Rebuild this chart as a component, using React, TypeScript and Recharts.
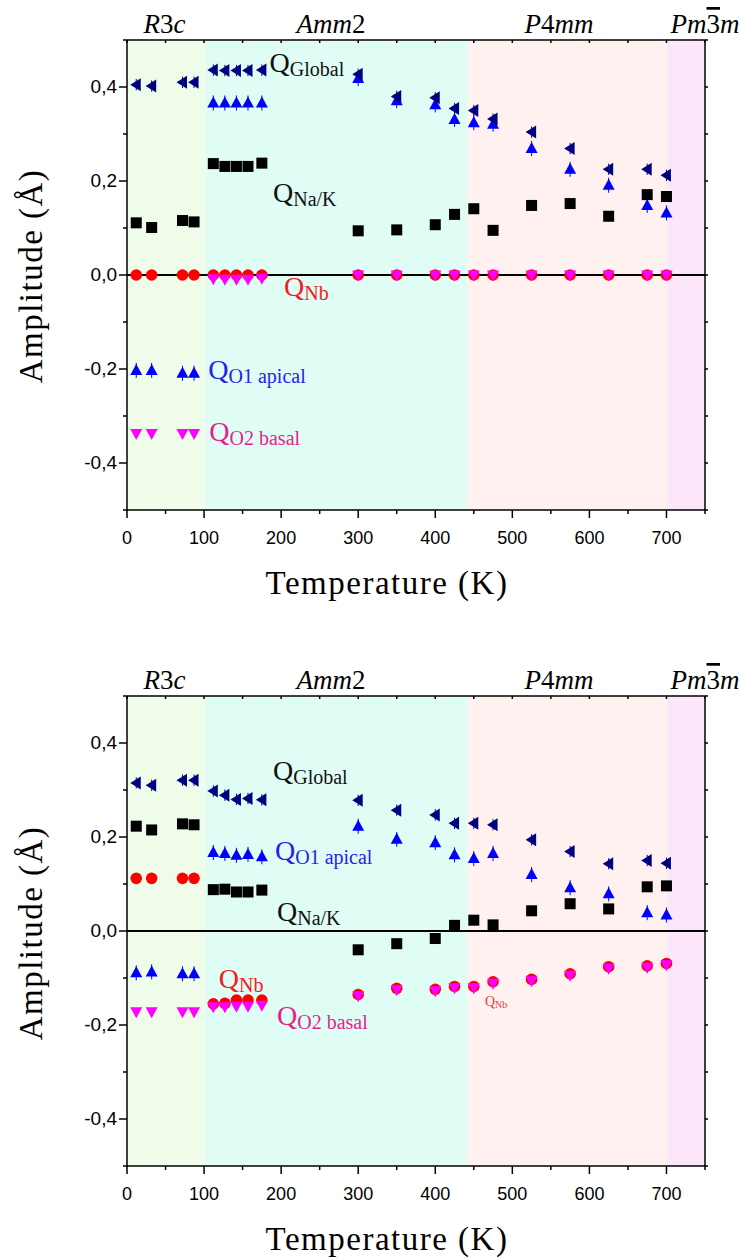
import React from 'react';
import { ScatterChart, Scatter, XAxis, YAxis, ReferenceArea, ReferenceLine, ErrorBar } from 'recharts';

// ---------- data ----------
const temps = [12, 32, 72, 87, 112, 127, 142, 157, 175, 300, 350, 400, 425, 450, 475, 525, 575, 625, 675, 700];

// top panel
const topNaK = [0.111, 0.101, 0.116, 0.113, 0.237, 0.231, 0.231, 0.231, 0.238, 0.094, 0.096, 0.107, 0.129, 0.141, 0.095, 0.148, 0.152, 0.125, 0.171, 0.167];
const topNb = [0, 0, 0, 0, 0, 0, 0, 0, 0, 0, 0, 0, 0, 0, 0, 0, 0, 0, 0, 0];
const topO2 = [-0.337, -0.337, -0.337, -0.337, -0.008, -0.009, -0.009, -0.009, -0.007, 0, 0, 0, 0, 0, 0, 0, 0, 0, 0, 0];
const topO1 = [-0.203, -0.203, -0.209, -0.209, 0.366, 0.366, 0.366, 0.366, 0.366, 0.418, 0.371, 0.362, 0.331, 0.324, 0.321, 0.269, 0.225, 0.191, 0.148, 0.132];
const topGlobal = [0.405, 0.402, 0.41, 0.41, 0.436, 0.435, 0.435, 0.435, 0.436, 0.427, 0.38, 0.377, 0.354, 0.35, 0.332, 0.304, 0.269, 0.225, 0.225, 0.212];

// bottom panel
const botNaK = [0.223, 0.215, 0.228, 0.226, 0.088, 0.089, 0.083, 0.083, 0.087, -0.04, -0.027, -0.016, 0.012, 0.023, 0.013, 0.043, 0.058, 0.047, 0.094, 0.096];
const botNb = [0.112, 0.112, 0.112, 0.112, -0.155, -0.154, -0.147, -0.147, -0.147, -0.135, -0.122, -0.124, -0.118, -0.118, -0.108, -0.103, -0.091, -0.076, -0.074, -0.069];
const botO2 = [-0.172, -0.172, -0.172, -0.172, -0.161, -0.161, -0.16, -0.16, -0.158, -0.138, -0.125, -0.127, -0.121, -0.121, -0.111, -0.106, -0.094, -0.079, -0.077, -0.072];
const botO1 = [-0.089, -0.087, -0.091, -0.091, 0.167, 0.165, 0.161, 0.163, 0.158, 0.223, 0.195, 0.188, 0.162, 0.154, 0.165, 0.12, 0.092, 0.079, 0.039, 0.034];
const botGlobal = [0.315, 0.31, 0.321, 0.321, 0.298, 0.289, 0.28, 0.282, 0.279, 0.278, 0.257, 0.247, 0.229, 0.229, 0.226, 0.194, 0.169, 0.143, 0.15, 0.144];

// error bars (read from the small vertical strokes)
const errO1 = [0.016, 0.016, 0.016, 0.016, 0.016, 0.016, 0.016, 0.016, 0.016, 0.016, 0.016, 0.016, 0.016, 0.016, 0.016, 0.016, 0.016, 0.016, 0.016, 0.016];
const errGlobal = [0.012, 0.012, 0.012, 0.012, 0.012, 0.012, 0.012, 0.012, 0.012, 0.012, 0.012, 0.012, 0.012, 0.012, 0.012, 0.012, 0.012, 0.012, 0.012, 0.012];

// axes
const xTicks = [0, 50, 100, 150, 200, 250, 300, 350, 400, 450, 500, 550, 600, 650, 700, 750];
const yTicks = [-0.5, -0.4, -0.3, -0.2, -0.1, 0, 0.1, 0.2, 0.3, 0.4, 0.5];

// phases
const phaseBounds = [0, 102, 442, 701, 750];
const phaseColors = ['#effcea', '#dffcf5', '#fff1ef', '#fce7fa'];
const phaseCenters = [48.7, 264.7, 560.5, 750];
const phaseNames = [
  [{ t: 'R', i: true }, { t: '3', i: false }, { t: 'c', i: true }],
  [{ t: 'Amm', i: true }, { t: '2', i: false }],
  [{ t: 'P', i: true }, { t: '4', i: false }, { t: 'mm', i: true }],
  [{ t: 'Pm', i: true }, { t: '3', i: false, o: true }, { t: 'm', i: true }],
];

// curve labels
const topLabels = [
  { x: 185, y: 0.431, sub: 'Global', color: '#111111' },
  { x: 189.4, y: 0.156, sub: 'Na/K', color: '#111111' },
  { x: 203.7, y: -0.044, sub: 'Nb', color: '#ee2222' },
  { x: 105.5, y: -0.221, sub: 'O1 apical', color: '#2323ee' },
  { x: 106.8, y: -0.354, sub: 'O2 basal', color: '#e61f8c' },
];
const botLabels = [
  { x: 189.4, y: 0.321, sub: 'Global', color: '#111111' },
  { x: 192, y: 0.151, sub: 'O1 apical', color: '#2323ee' },
  { x: 194.6, y: 0.021, sub: 'Na/K', color: '#111111' },
  { x: 119, y: -0.121, sub: 'Nb', color: '#ee2222' },
  { x: 194.6, y: -0.2, sub: 'O2 basal', color: '#e61f8c' },
  { x: 464.5, y: -0.159, sub: 'Nb', color: '#f03a3a', small: true },
];

// ---------- drawing helpers ----------
const PW = 578;
const PH = 470;
const SERIF = '"Liberation Serif", "DejaVu Serif", serif';
const SANS = '"Liberation Sans", Arial, sans-serif';

const mk = (vals: number[], errs?: number[]) => temps.map((t, i) => ({ x: t, y: vals[i], e: errs ? errs[i] : 0 }));

const SquareShape = (p: any) => <rect x={p.cx - 5.5} y={p.cy - 5.5} width={11} height={11} fill="#000" />;
const CircleShape = (p: any) => <circle cx={p.cx} cy={p.cy} r={5.8} fill="#ff0000" />;
const UpShape = (p: any) => (
  <polygon points={`${p.cx},${p.cy - 6.5} ${p.cx - 6},${p.cy + 4.5} ${p.cx + 6},${p.cy + 4.5}`} fill="#0000ff" />
);
const DownShape = (p: any) => (
  <polygon points={`${p.cx - 6},${p.cy - 4.5} ${p.cx + 6},${p.cy - 4.5} ${p.cx},${p.cy + 6.5}`} fill="#ff00ff" />
);
const LeftShape = (p: any) => (
  <polygon points={`${p.cx - 6},${p.cy} ${p.cx + 4.5},${p.cy - 6.5} ${p.cx + 4.5},${p.cy + 6.5}`} fill="#000080" />
);

const LabelShape = (p: any) => {
  const d = p.payload || p;
  const big = d.small ? 14 : 28;
  const sm = d.small ? 10 : 20;
  return (
    <text x={p.cx} y={p.cy} fill={d.color} style={{ fontFamily: SERIF }}>
      <tspan fontSize={big}>Q</tspan>
      <tspan fontSize={sm} dy={d.small ? 2 : 4}>{d.sub}</tspan>
    </text>
  );
};

const PhaseShape = (p: any) => {
  const d = p.payload || p;
  const parts = phaseNames[d.idx];
  return (
    <text x={p.cx} y={p.cy - 7} textAnchor="middle" fontSize={27} fill="#000" style={{ fontFamily: SERIF }}>
      {parts.map((s: any, k: number) => (
        <tspan key={k} fontStyle={s.i ? 'italic' : 'normal'} style={s.o ? { textDecoration: 'overline' } : undefined}>
          {s.t}
        </tspan>
      ))}
    </text>
  );
};

const BottomTick = (p: any) => {
  const v = p.payload.value;
  const major = v % 100 === 0;
  return (
    <g>
      <line x1={p.x} x2={p.x} y1={p.y} y2={p.y + (major ? 8 : 4)} stroke="#000" strokeWidth={1.5} />
      <line x1={p.x} x2={p.x} y1={p.y - PH} y2={p.y - PH + 3} stroke="#000" strokeWidth={1.5} />
      {major && v <= 700 ? (
        <text x={p.x} y={p.y + 34} textAnchor="middle" fontSize={18} fill="#000" style={{ fontFamily: SANS }}>
          {v}
        </text>
      ) : null}
    </g>
  );
};

const LeftTick = (p: any) => {
  const v = p.payload.value;
  const n = Math.round(v * 10);
  const major = n % 2 === 0 && Math.abs(n) < 5;
  const label = n === 0 ? '0,0' : v.toFixed(1).replace('.', ',');
  return (
    <g>
      <line x1={p.x} x2={p.x - (major ? 8 : 4)} y1={p.y} y2={p.y} stroke="#000" strokeWidth={1.5} />
      <line x1={p.x + PW} x2={p.x + PW + 3} y1={p.y} y2={p.y} stroke="#000" strokeWidth={1.5} />
      {major ? (
        <text x={p.x - 10} y={p.y + 6} textAnchor="end" fontSize={19} fill="#000" style={{ fontFamily: SANS }}>
          {label}
        </text>
      ) : null}
    </g>
  );
};

type PanelProps = {
  height: number;
  naK: number[];
  nb: number[];
  o2: number[];
  o1: number[];
  glob: number[];
  labels: any[];
};

const Panel = ({ height, naK, nb, o2, o1, glob, labels }: PanelProps) => {
  const phaseData = phaseCenters.map((c, i) => ({ x: c, y: 0.5, idx: i }));
  return (
    <ScatterChart
      width={745}
      height={height}
      margin={{ top: 40, right: 40, left: 126, bottom: height - 40 - PH - 1 }}
    >
      {phaseColors.map((c, i) => (
        <ReferenceArea
          key={i}
          x1={phaseBounds[i]}
          x2={phaseBounds[i + 1]}
          y1={-0.5}
          y2={0.5}
          fill={c}
          fillOpacity={1}
          stroke="none"
        />
      ))}
      <XAxis
        dataKey="x"
        type="number"
        domain={[0, 750]}
        ticks={xTicks}
        interval={0}
        height={1}
        tickSize={0}
        tickMargin={0}
        tickLine={false}
        axisLine={{ stroke: '#000', strokeWidth: 1.5 }}
        tick={(p: any) => <BottomTick {...p} />}
      />
      <YAxis
        dataKey="y"
        type="number"
        domain={[-0.5, 0.5]}
        ticks={yTicks}
        interval={0}
        width={1}
        tickSize={0}
        tickMargin={0}
        tickLine={false}
        axisLine={{ stroke: '#000', strokeWidth: 1.5 }}
        tick={(p: any) => <LeftTick {...p} />}
      />
      <ReferenceLine y={0.5} stroke="#000" strokeWidth={1.5} />
      <ReferenceLine x={750} stroke="#000" strokeWidth={1.5} />
      <ReferenceLine y={0} stroke="#000" strokeWidth={2} />
      <Scatter data={mk(naK)} shape={SquareShape} isAnimationActive={false} />
      <Scatter data={mk(nb)} shape={CircleShape} isAnimationActive={false} />
      <Scatter data={mk(o2)} shape={DownShape} isAnimationActive={false} />
      <Scatter data={mk(o1, errO1)} shape={UpShape} isAnimationActive={false}>
        <ErrorBar dataKey="e" direction="y" width={0} stroke="#0000ff" strokeWidth={1} />
      </Scatter>
      <Scatter data={mk(glob, errGlobal)} shape={LeftShape} isAnimationActive={false}>
        <ErrorBar dataKey="e" direction="y" width={0} stroke="#000080" strokeWidth={1} />
      </Scatter>
      <Scatter data={labels} shape={LabelShape} isAnimationActive={false} />
      <Scatter data={phaseData} shape={PhaseShape} isAnimationActive={false} />
    </ScatterChart>
  );
};

export default function App() {
  return (
    <div style={{ position: 'absolute', left: 0, top: 0, width: 745, height: 1258, background: '#fff' }}>
      <Panel height={656} naK={topNaK} nb={topNb} o2={topO2} o1={topO1} glob={topGlobal} labels={topLabels} />
      <Panel height={602} naK={botNaK} nb={botNb} o2={botO2} o1={botO1} glob={botGlobal} labels={botLabels} />
      <svg
        width={745}
        height={1258}
        style={{ position: 'absolute', left: 0, top: 0, pointerEvents: 'none' }}
      >
        <text x={42} y={276} transform="rotate(-90 42 276)" textAnchor="middle" fontSize={33} letterSpacing={1.5} fill="#000" style={{ fontFamily: SERIF }}>
          Amplitude (Å)
        </text>
        <text x={42} y={933} transform="rotate(-90 42 933)" textAnchor="middle" fontSize={33} letterSpacing={1.5} fill="#000" style={{ fontFamily: SERIF }}>
          Amplitude (Å)
        </text>
        <text x={387} y={594} textAnchor="middle" fontSize={33} letterSpacing={1.5} fill="#000" style={{ fontFamily: SERIF }}>
          Temperature (K)
        </text>
        <text x={387} y={1250} textAnchor="middle" fontSize={33} letterSpacing={1.5} fill="#000" style={{ fontFamily: SERIF }}>
          Temperature (K)
        </text>
      </svg>
    </div>
  );
}
